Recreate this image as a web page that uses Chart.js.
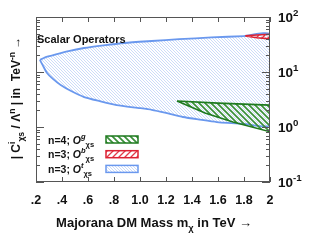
<!DOCTYPE html>
<html>
<head>
<meta charset="utf-8">
<script src="https://cdn.jsdelivr.net/npm/chart.js@4"></script>
<style>
  html, body { margin: 0; padding: 0; background: #fff; }
  #wrap { width: 334px; height: 250px; }
</style>
</head>
<body>
<div id="wrap"><canvas id="c" width="334" height="250"></canvas></div>
<script>
// tick labels
const xTickLabels = ['.2', '.4', '.6', '.8', '1.0', '1.2', '1.4', '1.6', '1.8', '2'];
const yDecades = [0.1, 1, 10, 100];
const yDecadeExp = ['-1', '0', '1', '2'];

// n=3; O^t (blue) boundary
const blueUpperX = [0.23, 0.28, 0.34, 0.45, 0.57, 0.72, 0.88, 1.09, 1.3, 1.55, 1.8, 2.0];
const blueUpperY = [16.6, 18.8, 20.4, 24, 27.3, 30.5, 33.7, 36.6, 39.5, 42.5, 45, 48];
const blueLowerX = [0.23, 0.25, 0.285, 0.33, 0.39, 0.47, 0.57, 0.69, 0.82, 1.0, 1.09, 1.2, 1.33, 1.46, 1.59, 1.8, 2.0];
const blueLowerY = [16.6, 13.5, 9.6, 7.5, 5.8, 4.5, 3.5, 2.95, 2.5, 2.2, 2.05, 1.8, 1.52, 1.36, 1.23, 1.14, 1.09];

// n=4; O^g (green) boundary
const greenUpperX = [1.285, 1.6, 2.0];
const greenUpperY = [2.97, 2.72, 2.5];
const greenLowerX = [1.285, 1.5, 1.715, 2.0];
const greenLowerY = [2.97, 1.8, 1.23, 0.82];

// n=3; O^b (red) boundary
const redUpperX = [1.81, 1.9, 2.0];
const redUpperY = [45.5, 47, 48.5];
const redLowerX = [1.81, 1.9, 2.0];
const redLowerY = [45, 42, 40];

const FONT = '"Liberation Sans", Arial, sans-serif';

function loop(ux, uy, lx, ly) {
  const pts = ux.map((x, i) => ({ x: x, y: uy[i] }));
  for (let i = lx.length - 1; i >= 0; i--) pts.push({ x: lx[i], y: ly[i] });
  return pts;
}

function hatch(color, size, lw, dir) {
  const c = document.createElement('canvas');
  c.width = c.height = size;
  const g = c.getContext('2d');
  g.strokeStyle = color;
  g.lineWidth = lw;
  g.beginPath();
  if (dir === '/') {
    g.moveTo(0, size); g.lineTo(size, 0);
    g.moveTo(-1, 1); g.lineTo(1, -1);
    g.moveTo(size - 1, size + 1); g.lineTo(size + 1, size - 1);
  } else {
    g.moveTo(0, 0); g.lineTo(size, size);
    g.moveTo(-1, size - 1); g.lineTo(1, size + 1);
    g.moveTo(size - 1, -1); g.lineTo(size + 1, 1);
  }
  g.stroke();
  return g.createPattern(c, 'repeat');
}

const ctx = document.getElementById('c').getContext('2d');
const bluePat = hatch('rgba(120,160,240,0.38)', 3, 1, '\\');
const greenPat = hatch('#3a8f3a', 6, 1.7, '\\');
const redPat = hatch('#e23a48', 6, 1.3, '/');
const BLUE = '#6a98ee', GREEN = '#1e7a1e', RED = '#dd2233';

// draw text made of parts: [text, 'n'|'sup'|'sub', italic]
function rich(g, x, y, parts, size, measureOnly) {
  let cx = x;
  for (const p of parts) {
    const kind = p[1] || 'n';
    const s = kind === 'n' ? size : size * 0.72;
    const dy = kind === 'sup' ? -size * 0.45 : kind === 'sub' ? size * 0.3 : 0;
    g.font = (p[2] ? 'italic ' : '') + 'bold ' + s + 'px ' + FONT;
    if (!measureOnly) g.fillText(p[0], cx, y + dy);
    cx += g.measureText(p[0]).width;
  }
  return cx - x;
}

const decor = {
  id: 'decor',
  afterDraw(chart) {
    const g = chart.ctx;
    const a = chart.chartArea;
    const xs = chart.scales.x, ys = chart.scales.y;
    g.save();
    // frame
    g.strokeStyle = '#555';
    g.lineWidth = 1;
    g.strokeRect(Math.round(a.left) + 0.5, Math.round(a.top) + 0.5, Math.round(a.right - a.left) - 1, Math.round(a.bottom - a.top) - 1);
    // x ticks, inward top and bottom
    g.beginPath();
    for (let i = 0; i < xTickLabels.length; i++) {
      const px = Math.round(xs.getPixelForValue(0.2 + 0.2 * i)) + 0.5;
      g.moveTo(px, a.bottom); g.lineTo(px, a.bottom - 5);
      g.moveTo(px, a.top); g.lineTo(px, a.top + 5);
    }
    // y ticks, log, inward left and right
    for (let d = 0; d < 3; d++) {
      for (let m = 1; m <= 9; m++) {
        const v = yDecades[d] * m;
        const py = Math.round(ys.getPixelForValue(v)) + 0.5;
        const len = m === 1 ? 8 : 4;
        g.moveTo(a.left, py); g.lineTo(a.left + len, py);
        g.moveTo(a.right, py); g.lineTo(a.right - len, py);
      }
    }
    g.stroke();
    g.fillStyle = '#111';
    g.textBaseline = 'alphabetic';
    g.textAlign = 'left';
    // y tick labels
    yDecades.forEach((v, i) => {
      const py = ys.getPixelForValue(v);
      rich(g, 278, py + 5, [['10'], [yDecadeExp[i], 'sup']], 13.5);
    });
    // y title, rotated
    g.save();
    g.translate(20, 98);
    g.rotate(-Math.PI / 2);
    const yParts = [['| C'], ['i', 'sup'], ['\u03c7s', 'sub'], [' / \u039b'], ['n', 'sup'], [' | in  TeV'], ['-n', 'sup'], [' \u2192']];
    const yw = rich(g, 0, 0, yParts, 12, true);
    rich(g, -yw / 2, 0, yParts, 12);
    g.restore();
    // x title
    const xParts = [['Majorana DM Mass m'], ['\u03c7', 'sub'], [' in TeV \u2192']];
    const xw = rich(g, 0, 0, xParts, 13, true);
    rich(g, 154 - xw / 2, 227, xParts, 13);
    // label
    rich(g, 37, 43, [['Scalar Operators']], 11);
    // legend
    const rows = [
      ['n=4; ', 'g', greenPat, GREEN],
      ['n=3; ', 'b', redPat, RED],
      ['n=3; ', 't', bluePat, BLUE]
    ];
    rows.forEach((r, i) => {
      const cy = 139.5 + i * 14.7;
      g.fillStyle = '#111';
      rich(g, 48, cy + 4, [[r[0]], ['O', 'n', true], [r[1], 'sup', true], ['\u03c7s', 'sub']], 10.5);
      g.fillStyle = r[2];
      g.fillRect(106, cy - 3.5, 32, 7);
      g.strokeStyle = r[3];
      g.lineWidth = 1.5;
      g.strokeRect(106, cy - 3.5, 32, 7);
    });
    g.restore();
  }
};

new Chart(ctx, {
  type: 'scatter',
  data: {
    datasets: [
      {
        label: 'n=3; O^b',
        data: loop(redUpperX, redUpperY, redLowerX, redLowerY),
        showLine: true, fill: 'shape', backgroundColor: redPat,
        borderColor: RED, borderWidth: 1.6, pointRadius: 0, tension: 0, order: 0
      },
      {
        label: 'n=4; O^g',
        data: loop(greenUpperX, greenUpperY, greenLowerX, greenLowerY),
        showLine: true, fill: 'shape', backgroundColor: greenPat,
        borderColor: GREEN, borderWidth: 1.6, pointRadius: 0, tension: 0, order: 1
      },
      {
        label: 'n=3; O^t',
        data: loop(blueUpperX, blueUpperY, blueLowerX, blueLowerY),
        showLine: true, fill: 'shape', backgroundColor: bluePat,
        borderColor: BLUE, borderWidth: 1.8, pointRadius: 0, tension: 0.2, order: 2
      }
    ]
  },
  options: {
    responsive: false,
    devicePixelRatio: 1,
    animation: false,
    layout: { padding: { left: 36, top: 17, right: 0, bottom: 0 } },
    plugins: { legend: { display: false }, tooltip: { enabled: false } },
    scales: {
      x: {
        type: 'linear', min: 0.2, max: 2,
        grid: { display: false, drawTicks: false },
        border: { display: false },
        ticks: {
          stepSize: 0.2, padding: 11, color: '#111',
          font: { family: FONT, size: 12.5, weight: 'bold' },
          maxRotation: 0, autoSkip: false,
          callback: (v, i) => xTickLabels[i]
        },
        afterFit: s => { s.height = 68; }
      },
      y: {
        type: 'logarithmic', position: 'right', min: 0.1, max: 100,
        grid: { display: false, drawTicks: false },
        border: { display: false },
        ticks: { display: false },
        afterFit: s => { s.height = s.height; s.width = 64; }
      }
    }
  },
  plugins: [decor]
});
</script>
</body>
</html>
